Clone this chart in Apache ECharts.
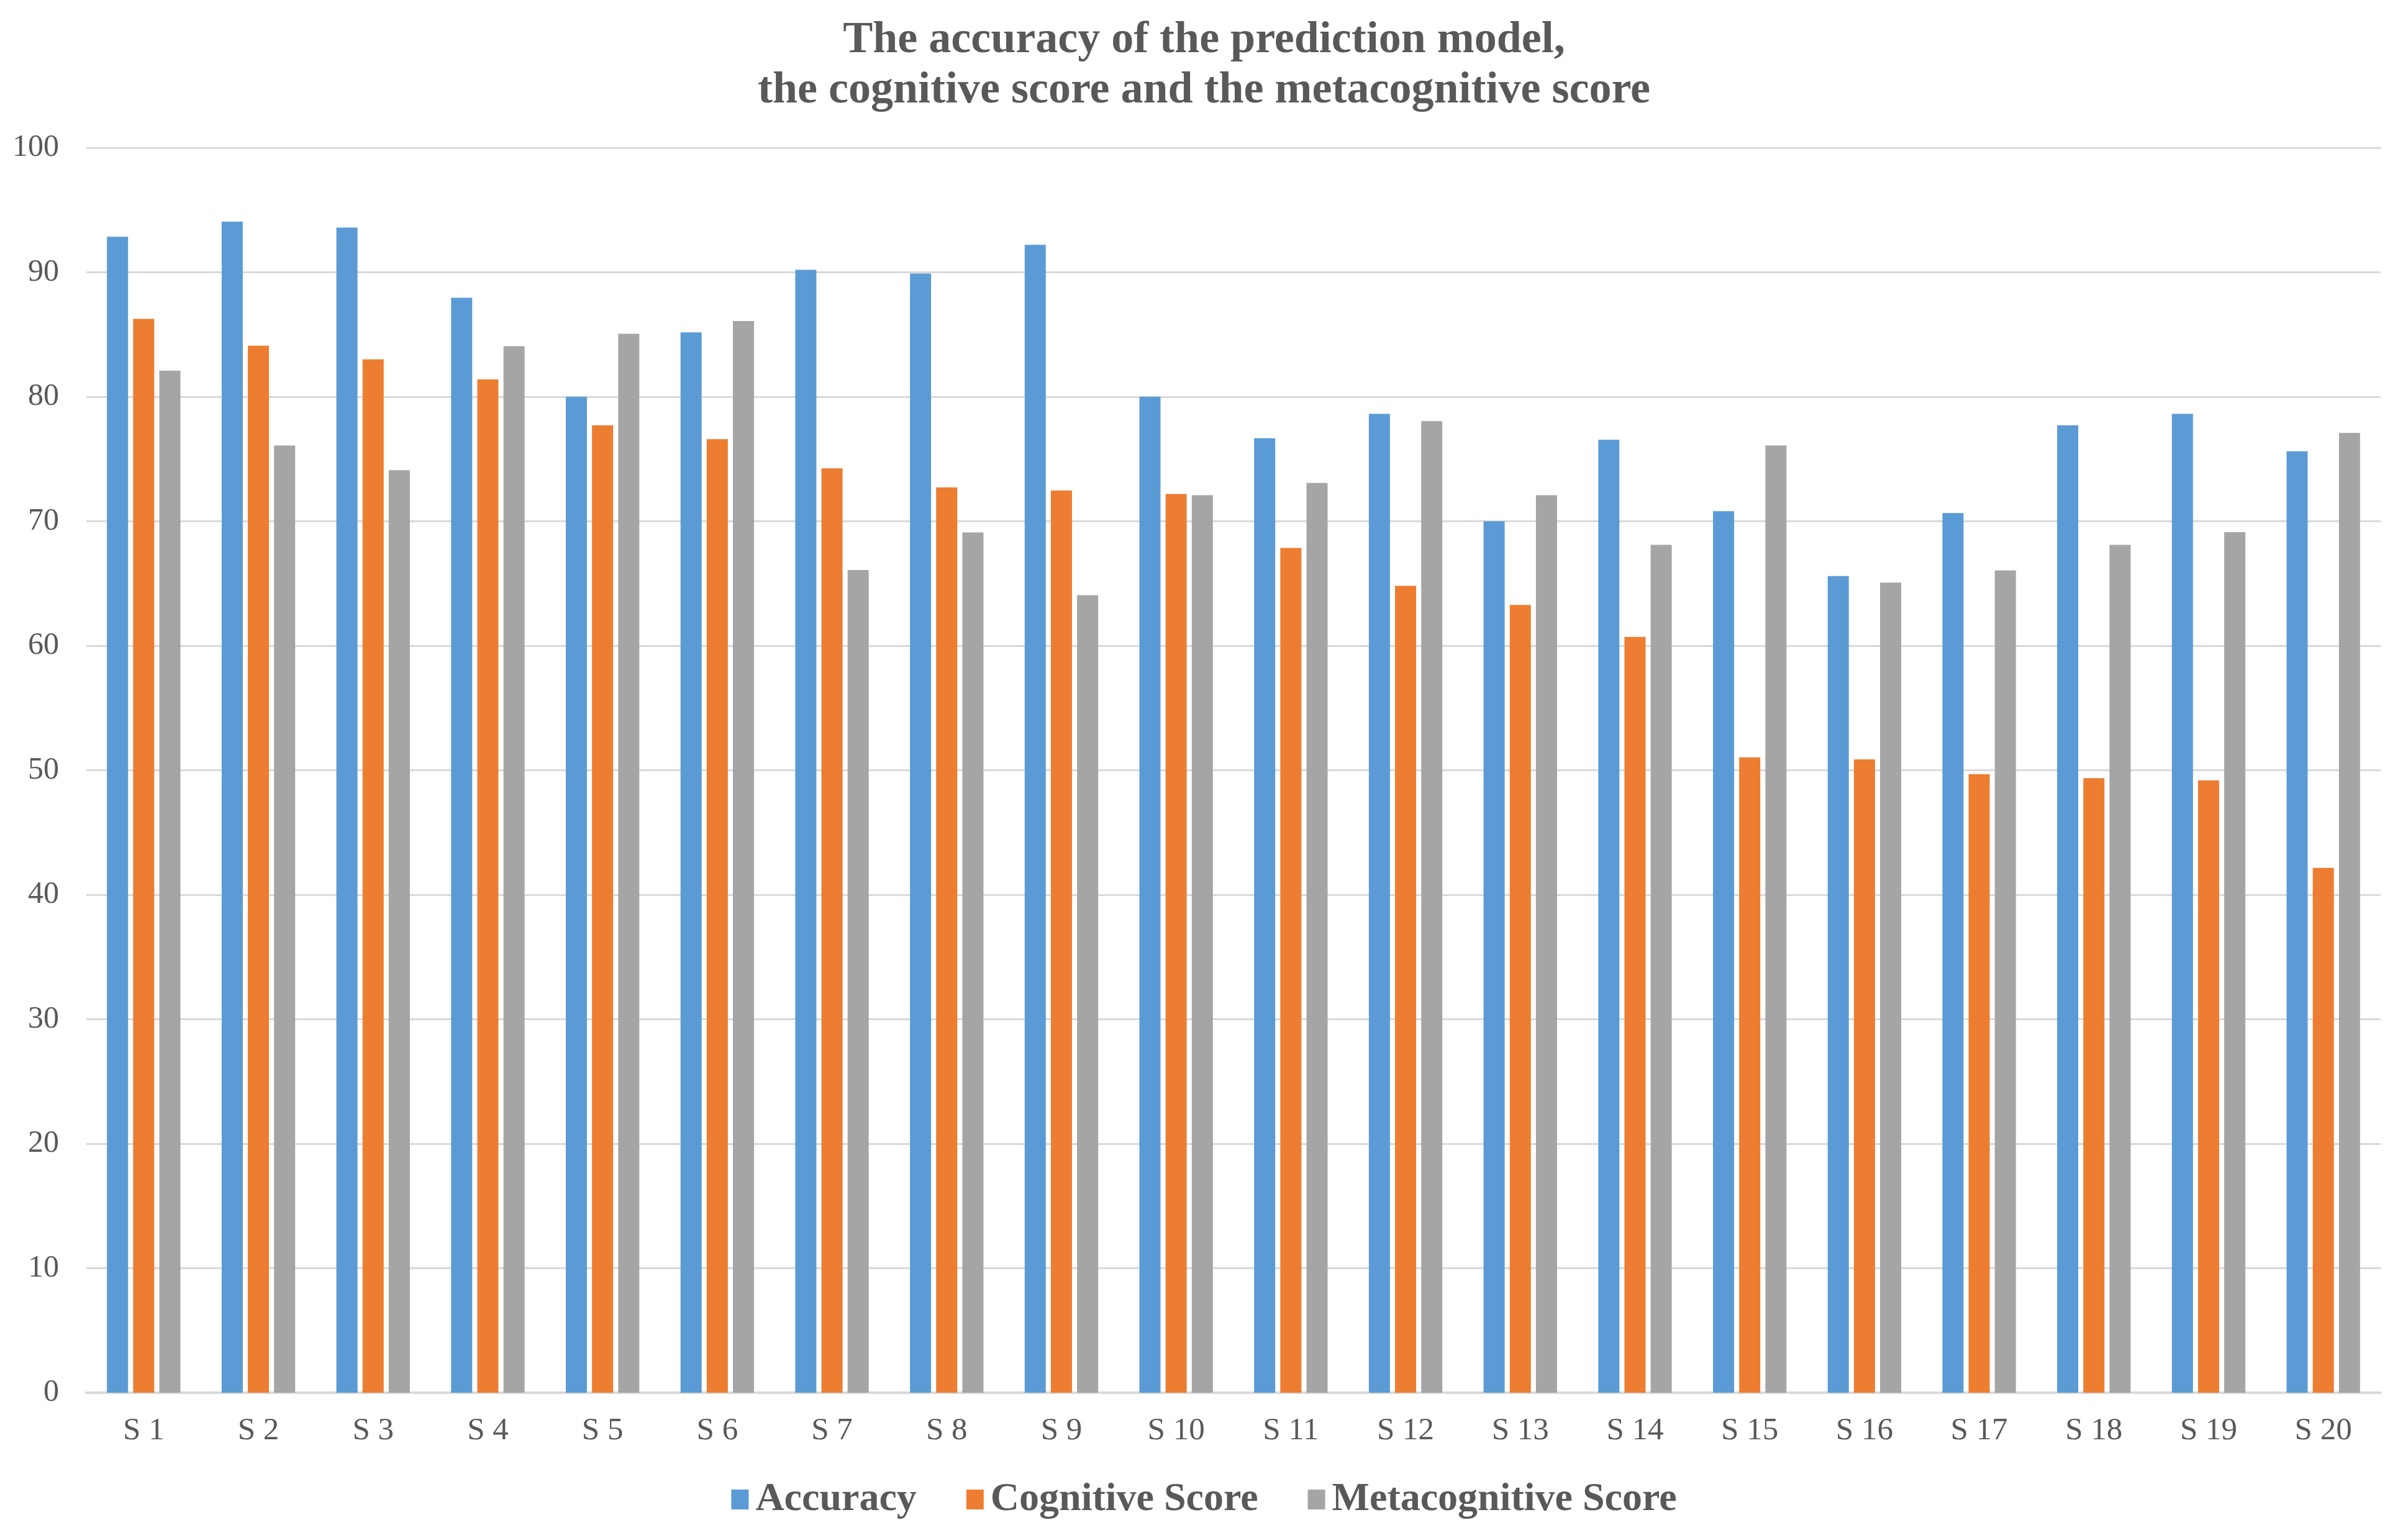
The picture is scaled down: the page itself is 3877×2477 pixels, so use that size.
<!DOCTYPE html>
<html>
<head>
<meta charset="utf-8">
<script src="https://cdn.jsdelivr.net/npm/echarts@6/dist/echarts.min.js"></script>
<style>
html,body{margin:0;padding:0;background:#fff;}
#chart{width:3877px;height:2477px;}
</style>
</head>
<body>
<div id="chart"></div>
<script>
const categories = ['S 1','S 2','S 3','S 4','S 5','S 6','S 7','S 8','S 9','S 10','S 11','S 12','S 13','S 14','S 15','S 16','S 17','S 18','S 19','S 20'];
const accuracy = [92.85, 94.07, 93.59, 87.96, 80.0, 85.17, 90.2, 89.9, 92.21, 80.0, 76.67, 78.63, 70.0, 76.54, 70.81, 65.6, 70.66, 77.71, 78.63, 75.62];
const cognitive = [86.26, 84.1, 83.0, 81.4, 77.7, 76.6, 74.25, 72.72, 72.47, 72.19, 67.86, 64.81, 63.28, 60.71, 51.04, 50.87, 49.69, 49.36, 49.19, 42.16];
const metacognitive = [82.09, 76.08, 74.1, 84.07, 85.06, 86.08, 66.08, 69.1, 64.07, 72.1, 73.08, 78.04, 72.1, 68.1, 76.08, 65.08, 66.05, 68.1, 69.13, 77.1];
const seriesNames = ['Accuracy', 'Cognitive Score', 'Metacognitive Score'];
const colors = ['#5B9BD5', '#ED7D31', '#A5A5A5'];
const yTicks = {min: 0, max: 100, interval: 10};

const FONT = "'Liberation Serif', 'Times New Roman', serif";
const chart = echarts.init(document.getElementById('chart'));
const values = [accuracy, cognitive, metacognitive];
chart.setOption({
  backgroundColor: '#ffffff',
  animation: false,
  title: {
    text: 'The accuracy of the prediction model,\nthe cognitive score and the metacognitive score',
    left: 'center',
    top: 20,
    textStyle: {fontFamily: FONT, fontSize: 72, fontWeight: 'bold', color: '#595959', lineHeight: 81, align: 'center'}
  },
  legend: {
    top: 2378,
    left: 'center',
    itemWidth: 28,
    itemHeight: 32,
    itemGap: 80,
    icon: 'rect',
    textStyle: {fontFamily: FONT, fontSize: 64, fontWeight: 'bold', color: '#595959', padding: [0, 0, 0, 6]},
    data: seriesNames
  },
  grid: {left: 139, right: 44, top: 238, bottom: 234, containLabel: false},
  xAxis: {
    type: 'category',
    data: categories,
    axisLine: {lineStyle: {color: '#d9d9d9', width: 4}},
    axisTick: {show: false},
    axisLabel: {fontFamily: FONT, fontSize: 51, color: '#595959', margin: 36}
  },
  yAxis: {
    type: 'value',
    min: yTicks.min, max: yTicks.max, interval: yTicks.interval,
    axisLine: {show: false},
    axisTick: {show: false},
    splitLine: {lineStyle: {color: '#d9d9d9', width: 3}},
    axisLabel: {fontFamily: FONT, fontSize: 50, color: '#595959', margin: 44}
  },
  series: seriesNames.map((n, i) => ({
    name: n,
    type: 'bar',
    data: values[i],
    barWidth: 34,
    barGap: '24%',
    itemStyle: {color: colors[i]}
  }))
});
</script>
</body>
</html>
